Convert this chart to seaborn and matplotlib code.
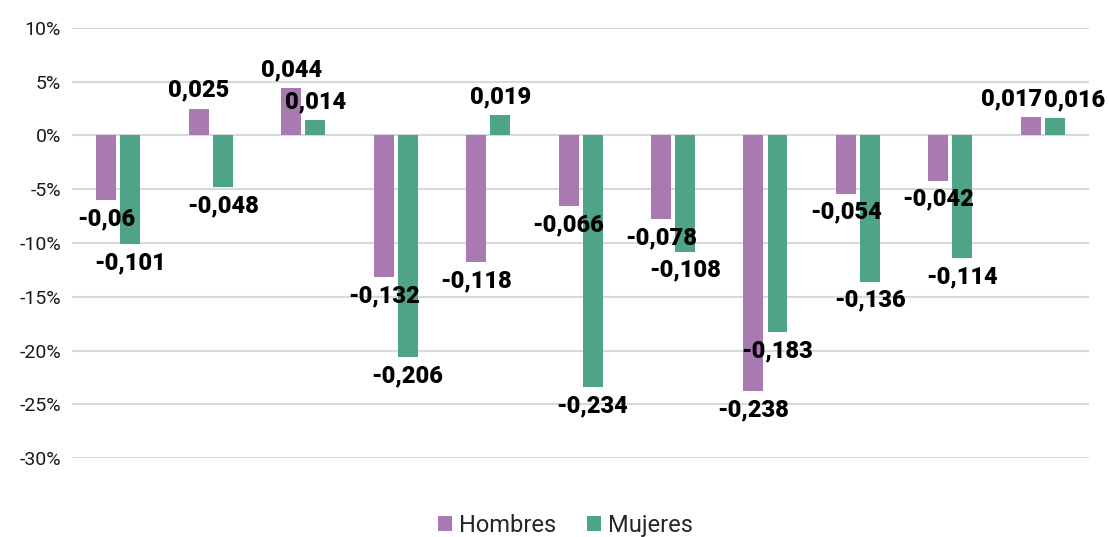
import matplotlib.pyplot as plt
import seaborn as sns
import pandas as pd
from matplotlib.ticker import FuncFormatter

# values (fractions)
grupos = [str(i) for i in range(1, 12)]
hombres = [-0.06, 0.025, 0.044, -0.132, -0.118, -0.066, -0.078, -0.238, -0.054, -0.042, 0.017]
mujeres = [-0.101, -0.048, 0.014, -0.206, 0.019, -0.234, -0.108, -0.183, -0.136, -0.114, 0.016]
series = ["Hombres", "Mujeres"]
colores = ["#A97AB2", "#4FA386"]

df = pd.DataFrame({"grupo": grupos * 2,
                   "valor": hombres + mujeres,
                   "serie": [series[0]] * len(grupos) + [series[1]] * len(grupos)})

sns.set_style("white")
plt.rcParams["font.family"] = ["Roboto", "DejaVu Sans"]

fig, ax = plt.subplots(figsize=(11.09, 5.37), dpi=100)
fig.subplots_adjust(left=0.065, right=0.982, top=0.948, bottom=0.147)

sns.barplot(data=df, x="grupo", y="valor", hue="serie", palette=colores,
            width=0.52, gap=0.17, ax=ax, saturation=1, legend=True, linewidth=0)

for k, (cont, vals) in enumerate(zip(ax.containers, [hombres, mujeres])):
    txts = ax.bar_label(cont, labels=[str(v).replace(".", ",") for v in vals],
                        padding=5, fontsize=17, fontweight="black", color="black")
    # last group: labels pushed apart so they sit side by side
    dx = -14 if k == 0 else 14
    t = txts[-1]
    t.set_position((t.get_position()[0] + dx, t.get_position()[1]))

ax.set_ylim(-0.30, 0.10)
ax.set_yticks([0.10, 0.05, 0, -0.05, -0.10, -0.15, -0.20, -0.25, -0.30])
ax.yaxis.set_major_formatter(FuncFormatter(lambda v, p: f"{round(v * 100):d}%"))
ax.tick_params(axis="y", labelsize=14, length=0, pad=8, labelcolor="#1a1a1a")
ax.set_xticks([])
ax.set_xlabel("")
ax.set_ylabel("")
ax.grid(axis="y", color="#d9d9d9", lw=1.5)
ax.set_axisbelow(True)
sns.despine(left=True, bottom=True)

handles, labels = ax.get_legend_handles_labels()
ax.get_legend().remove()
fig.legend(handles, labels, loc="lower center", bbox_to_anchor=(0.51, -0.04),
           ncol=2, frameon=False, fontsize=17, handlelength=0.6, handleheight=0.6,
           handletextpad=0.3, columnspacing=1.3)

fig.savefig("out.png", dpi=100)
